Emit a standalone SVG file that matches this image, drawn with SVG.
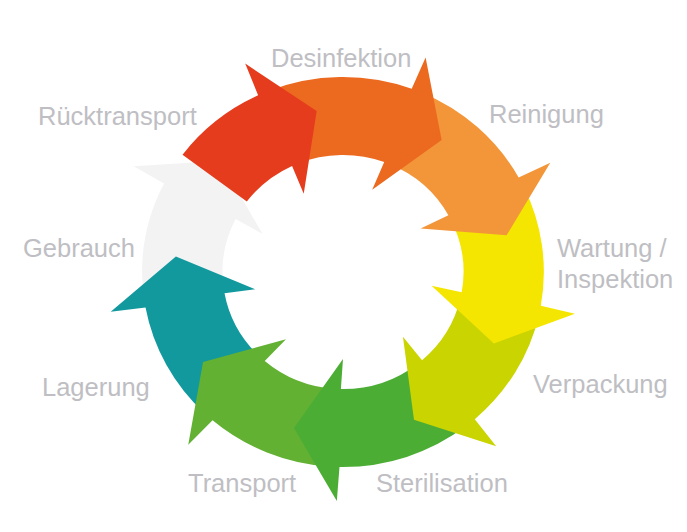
<svg xmlns="http://www.w3.org/2000/svg" width="687" height="532" viewBox="0 0 687 532">
  <style>
    .lbl { font-family: "Liberation Sans", Arial, sans-serif; font-size: 25.5px; fill: #BEBEC3; }
  </style>
  <rect width="687" height="532" fill="#FFFFFF"/>
  <g id="gebrauch">
    <path fill="#F3F3F4" transform="translate(343,272) scale(1.03,1) rotate(-153)" d="M160.7,-110.4 A195,195 0 0 1 195,0 L229,2 L156.7,44.9 L87,-1.5 L117,0 A117,117 0 0 0 96.4,-66.3 Z"/>
    <text class="lbl" x="23" y="257">Gebrauch</text>
  </g>
  <g id="lagerung">
    <path fill="#11999E" transform="translate(343,272) scale(1.03,1) rotate(169.5)" d="M157.8,-114.6 A195,195 0 0 1 195,0 L229,2 L156.7,44.9 L87,-1.5 L117,0 A117,117 0 0 0 94.7,-68.8 Z"/>
    <text class="lbl" x="42" y="396">Lagerung</text>
  </g>
  <g id="transport">
    <path fill="#62B133" transform="translate(343,272) scale(1.03,1) rotate(130.5)" d="M156.8,-116.0 A195,195 0 0 1 195,0 L229,2 L156.7,44.9 L87,-1.5 L117,0 A117,117 0 0 0 94.1,-69.6 Z"/>
    <text class="lbl" x="188" y="492">Transport</text>
  </g>
  <g id="sterilisation">
    <path fill="#4CAD35" transform="translate(343,272) scale(1.03,1) rotate(91)" d="M151.5,-122.7 A195,195 0 0 1 195,0 L229,2 L156.7,44.9 L87,-1.5 L117,0 A117,117 0 0 0 90.9,-73.6 Z"/>
    <text class="lbl" x="376" y="492">Sterilisation</text>
  </g>
  <g id="verpackung">
    <path fill="#CAD400" transform="translate(343,272) scale(1.03,1) rotate(49)" d="M157.8,-114.6 A195,195 0 0 1 195,0 L229,2 L156.7,44.9 L87,-1.5 L117,0 A117,117 0 0 0 94.7,-68.8 Z"/>
    <text class="lbl" x="533" y="393">Verpackung</text>
  </g>
  <g id="wartung">
    <path fill="#F4E600" transform="translate(343,272) scale(1.03,1) rotate(10)" d="M157.8,-114.6 A195,195 0 0 1 195,0 L229,2 L156.7,44.9 L87,-1.5 L117,0 A117,117 0 0 0 94.7,-68.8 Z"/>
    <text class="lbl" x="557" y="257">Wartung /</text>
    <text class="lbl" x="557" y="288">Inspektion</text>
  </g>
  <g id="reinigung">
    <path fill="#F3963A" transform="translate(343,272) scale(1.03,1) rotate(-29)" d="M153.7,-120.1 A195,195 0 0 1 195,0 L229,2 L156.7,44.9 L87,-1.5 L117,0 A117,117 0 0 0 92.2,-72.0 Z"/>
    <text class="lbl" x="489" y="123">Reinigung</text>
  </g>
  <g id="desinfektion">
    <path fill="#EC6A1F" transform="translate(343,272) scale(1.03,1) rotate(-70)" d="M144.9,-130.5 A195,195 0 0 1 195,0 L229,2 L156.7,44.9 L87,-1.5 L117,0 A117,117 0 0 0 86.9,-78.3 Z"/>
    <text class="lbl" x="271" y="67">Desinfektion</text>
  </g>
  <g id="ruecktransport">
    <path fill="#E63C1E" transform="translate(343,272) scale(1.03,1) rotate(-115)" d="M172.2,-91.6 A195,195 0 0 1 195,0 L229,2 L156.7,44.9 L87,-1.5 L117,0 A117,117 0 0 0 103.3,-54.9 Z"/>
    <text class="lbl" x="38" y="125">Rücktransport</text>
  </g>
</svg>
